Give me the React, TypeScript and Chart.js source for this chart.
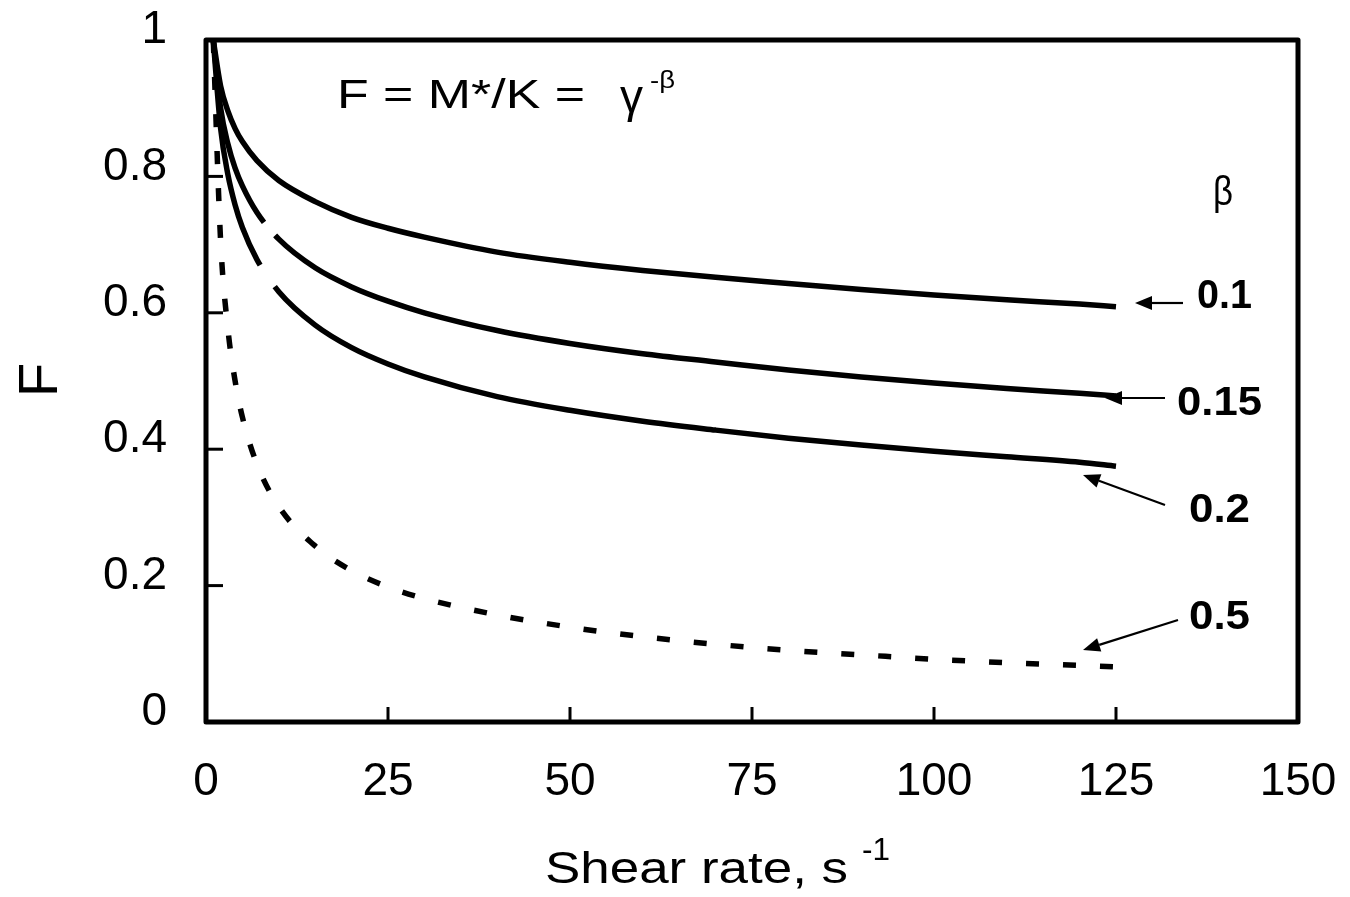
import { useEffect, useRef } from 'react';
import { Chart, registerables } from 'chart.js';

Chart.register(...registerables);

// Shear rate (s^-1) sampled along the curves
const shearRate = [1, 2, 3, 4, 5, 7, 10, 15, 20, 25, 30, 40, 50, 60, 70, 80, 90, 100, 110, 120, 125];
// F for each beta
const fBeta01 = [1, 0.933, 0.896, 0.87, 0.851, 0.823, 0.794, 0.763, 0.74, 0.724, 0.711, 0.689, 0.674, 0.662, 0.652, 0.643, 0.634, 0.626, 0.619, 0.613, 0.609];
const fBeta015 = [1, 0.901, 0.848, 0.812, 0.786, 0.747, 0.708, 0.666, 0.638, 0.617, 0.6, 0.574, 0.555, 0.54, 0.528, 0.516, 0.506, 0.497, 0.489, 0.482, 0.478];
const fBeta02 = [1, 0.871, 0.803, 0.758, 0.725, 0.678, 0.631, 0.582, 0.549, 0.525, 0.506, 0.477, 0.457, 0.441, 0.428, 0.416, 0.406, 0.397, 0.389, 0.381, 0.375];
const fBeta05 = [1, 0.707, 0.577, 0.5, 0.447, 0.378, 0.316, 0.258, 0.222, 0.198, 0.181, 0.157, 0.139, 0.125, 0.114, 0.105, 0.0985, 0.092, 0.087, 0.083, 0.081];

const betaLabels = ['0.1', '0.15', '0.2', '0.5'];
const xTickStep = 25;
const yTickStep = 0.2;

const FAMILY = '"Liberation Sans", Arial, Helvetica, sans-serif';

function drawFitted(ctx: CanvasRenderingContext2D, text: string, x: number, baseline: number, font: string, width?: number) {
  ctx.save();
  ctx.font = font;
  ctx.textAlign = 'left';
  ctx.textBaseline = 'alphabetic';
  const w = ctx.measureText(text).width;
  const sx = width ? width / w : 1;
  ctx.translate(x, baseline);
  ctx.scale(sx, 1);
  ctx.fillStyle = '#000';
  ctx.fillText(text, 0, 0);
  ctx.restore();
}

function drawArrow(ctx: CanvasRenderingContext2D, x1: number, y1: number, x2: number, y2: number) {
  const ang = Math.atan2(y2 - y1, x2 - x1);
  const headLen = 17;
  const headW = 7;
  const bx = x2 - headLen * Math.cos(ang);
  const by = y2 - headLen * Math.sin(ang);
  ctx.save();
  ctx.strokeStyle = '#000';
  ctx.fillStyle = '#000';
  ctx.lineWidth = 2.2;
  ctx.beginPath();
  ctx.moveTo(x1, y1);
  ctx.lineTo(bx, by);
  ctx.stroke();
  ctx.beginPath();
  ctx.moveTo(x2, y2);
  ctx.lineTo(bx + headW * Math.sin(ang), by - headW * Math.cos(ang));
  ctx.lineTo(bx - headW * Math.sin(ang), by + headW * Math.cos(ang));
  ctx.closePath();
  ctx.fill();
  ctx.restore();
}

const framePlugin = {
  id: 'frameAndNotes',
  afterDatasetsDraw(chart: any) {
    const ctx: CanvasRenderingContext2D = chart.ctx;
    const { left, right, top, bottom } = chart.chartArea;
    const xs = chart.scales.x;
    const ys = chart.scales.y;
    ctx.save();
    ctx.strokeStyle = '#000';
    // inward tick marks
    ctx.lineWidth = 3;
    ys.ticks.forEach((t: any) => {
      const py = ys.getPixelForValue(t.value);
      ctx.beginPath();
      ctx.moveTo(left, py);
      ctx.lineTo(left + 17, py);
      ctx.stroke();
    });
    xs.ticks.forEach((t: any) => {
      const px = xs.getPixelForValue(t.value);
      ctx.beginPath();
      ctx.moveTo(px, bottom);
      ctx.lineTo(px, bottom - 15);
      ctx.stroke();
    });
    // frame
    ctx.lineWidth = 5;
    ctx.lineJoin = 'round';
    ctx.strokeRect(left, top, right - left, bottom - top);
    ctx.restore();

    // formula
    drawFitted(ctx, 'F = M*/K =', 337, 108, `40px ${FAMILY}`, 248);
    drawFitted(ctx, 'γ', 620, 112, `46px ${FAMILY}`, 23);
    drawFitted(ctx, '-β', 650, 88, `24px ${FAMILY}`, 25);
    // beta header
    drawFitted(ctx, 'β', 1213, 205, `40px ${FAMILY}`, 20);
    // curve labels
    const labelPos = [
      [1197, 308, 55],
      [1177, 415, 85],
      [1189, 522, 61],
      [1189, 629, 61],
    ];
    betaLabels.forEach((lab, i) => {
      const [x, y, w] = labelPos[i];
      drawFitted(ctx, lab, x, y, `bold 41px ${FAMILY}`, w);
    });
    drawArrow(ctx, 1183, 303, 1135, 303);
    drawArrow(ctx, 1165, 398, 1105, 398);
    drawArrow(ctx, 1165, 505, 1083, 475);
    drawArrow(ctx, 1178, 620, 1083, 650);

    // axis titles
    drawFitted(ctx, 'Shear rate, s', 545, 883, `44px ${FAMILY}`, 303);
    drawFitted(ctx, '-1', 862, 860, `32px ${FAMILY}`, 28);
    ctx.save();
    ctx.font = `56px ${FAMILY}`;
    ctx.fillStyle = '#000';
    ctx.textAlign = 'left';
    ctx.textBaseline = 'alphabetic';
    ctx.translate(57, 397);
    ctx.rotate(-Math.PI / 2);
    ctx.fillText('F', 0, 0);
    ctx.restore();
  },
};

function toPoints(ys: number[]) {
  return shearRate.map((x, i) => ({ x, y: ys[i] }));
}

function zeroPad(s: any) {
  s.paddingTop = 0;
  s.paddingBottom = 0;
  s.paddingLeft = 0;
  s.paddingRight = 0;
}

export default function App() {
  const ref = useRef<HTMLCanvasElement | null>(null);
  useEffect(() => {
    if (!ref.current) return;
    const common = {
      pointRadius: 0,
      borderColor: '#000',
      borderWidth: 5.5,
      fill: false,
      cubicInterpolationMode: 'monotone' as const,
      borderCapStyle: 'butt' as const,
    };
    const chart = new Chart(ref.current, {
      type: 'line',
      data: {
        datasets: [
          { ...common, label: betaLabels[0], data: toPoints(fBeta01) },
          { ...common, label: betaLabels[1], data: toPoints(fBeta015), borderDash: [192, 17, 4000, 10] },
          { ...common, label: betaLabels[2], data: toPoints(fBeta02), borderDash: [232, 26, 4000, 10] },
          { ...common, label: betaLabels[3], data: toPoints(fBeta05), borderDash: [13, 24] },
        ],
      },
      options: {
        animation: false,
        responsive: false,
        events: [],
        layout: { padding: { top: 40, right: 52, left: 0, bottom: 0 } },
        plugins: { legend: { display: false }, tooltip: { enabled: false } },
        scales: {
          x: {
            type: 'linear',
            min: 0,
            max: 150,
            afterFit: (s: any) => { s.height = 175; zeroPad(s); },
            grid: { display: false, drawTicks: false },
            border: { display: false },
            ticks: {
              stepSize: xTickStep,
              padding: 33,
              color: '#000',
              font: { family: FAMILY, size: 46 },
              maxRotation: 0,
              autoSkip: false,
            },
          },
          y: {
            type: 'linear',
            min: 0,
            max: 1,
            afterFit: (s: any) => { s.width = 206; zeroPad(s); },
            grid: { display: false, drawTicks: false },
            border: { display: false },
            ticks: {
              stepSize: yTickStep,
              padding: 39,
              labelOffset: -9.5,
              color: '#000',
              font: { family: FAMILY, size: 46 },
              callback: (v: any) => String(Math.round(Number(v) * 10) / 10),
            },
          },
        },
      },
      plugins: [framePlugin],
    });
    return () => chart.destroy();
  }, []);
  return (
    <div style={{ position: 'fixed', left: 0, top: 0, width: 1350, height: 897, background: '#fff' }}>
      <canvas ref={ref} width={1350} height={897} style={{ width: 1350, height: 897, display: 'block' }} />
    </div>
  );
}
